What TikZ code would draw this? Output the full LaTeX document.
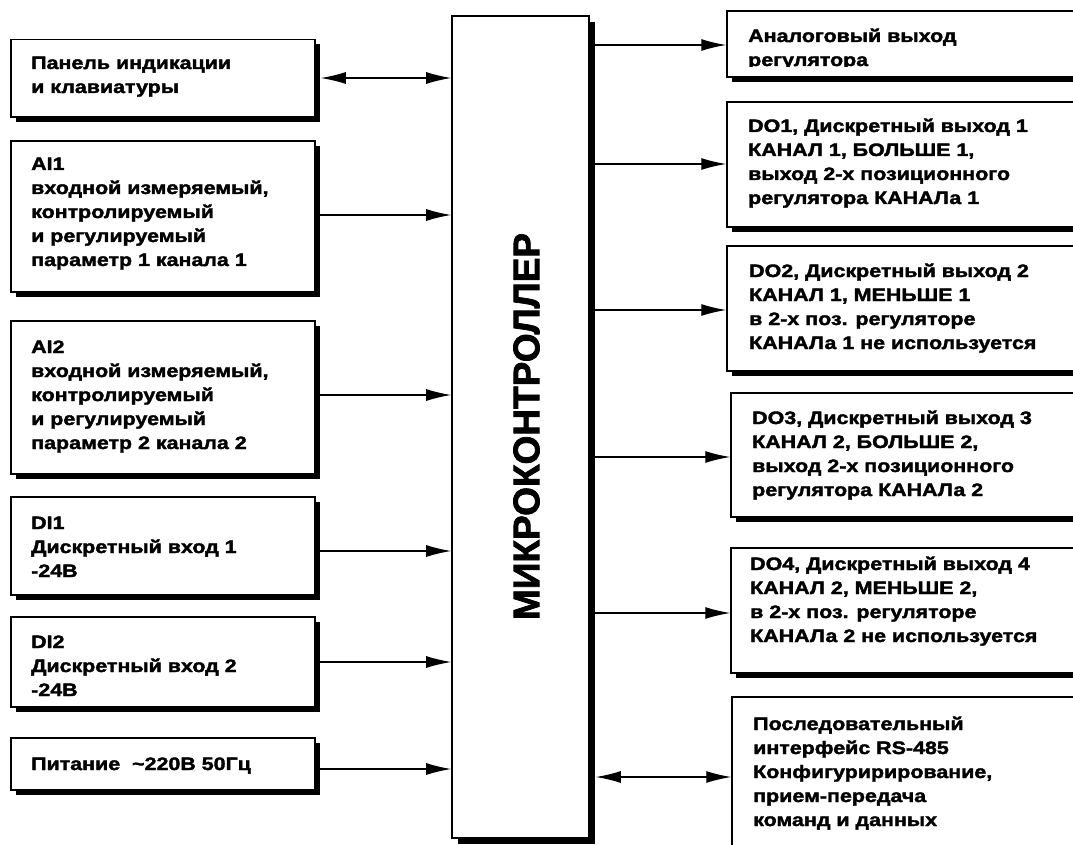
\documentclass[tikz,border=0pt]{standalone}
\usepackage{fontspec}
\setmainfont{Liberation Sans}[FakeStretch=1.19,FakeBold=2]
\newfontfamily\mcfont{Liberation Sans Bold}[FakeBold=2]
\usetikzlibrary{arrows.meta,fit,shadows}
\newcommand\lines[1]{\begin{tabular}[t]{@{}l@{}}#1\end{tabular}}
\begin{document}
\begin{tikzpicture}[x=1pt,y=-1pt,
  box/.style={draw=black, line width=1.5pt, fill=white, inner sep=0pt,
    drop shadow={shadow xshift=5pt, shadow yshift=-5pt, fill=black, opacity=1}},
  bigbox/.style={draw=black, line width=1.6pt, fill=white, inner sep=0pt,
    drop shadow={shadow xshift=6pt, shadow yshift=-6pt, fill=black, opacity=1}},
  lbl/.style={inner sep=0pt, anchor=base west, font=\bfseries\fontsize{18}{24}\selectfont},
  arr/.style={line width=1.3pt, -{Latex[length=25pt,width=12pt]}},
  darr/.style={line width=1.3pt, {Latex[length=25pt,width=12pt]}-{Latex[length=25pt,width=12pt]}}]
\useasboundingbox (0,0) rectangle (1073,845);
\clip (0,0) rectangle (1073,845);
% microcontroller
\node[bigbox, fit={(452,16) (589,838)}] (mc) {};
\node[inner sep=0pt, rotate=90, font=\mcfont\fontsize{37}{37}\selectfont] (mct) at (526.5,426.5) {МИКРОКОНТРОЛЛЕР};
% left boxes
\node[box, fit={(11,39.5) (315,117)}] (panel) {};
\node[box, fit={(11,141) (315,292)}] (ai1) {};
\node[box, fit={(11,321) (315,474)}] (ai2) {};
\node[box, fit={(11,497) (315,595)}] (di1) {};
\node[box, fit={(11,617) (315,707)}] (di2) {};
\node[box, fit={(11,738) (315,790)}] (pw) {};
\node[lbl] (tpanel) at (31,69) {\lines{Панель индикации\\и клавиатуры}};
\node[lbl] (tai1) at (31,170) {\lines{AI1\\входной измеряемый,\\контролируемый\\и регулируемый\\параметр 1 канала 1}};
\node[lbl] (tai2) at (31,353) {\lines{AI2\\входной измеряемый,\\контролируемый\\и регулируемый\\параметр 2 канала 2}};
\node[lbl] (tdi1) at (31,529) {\lines{DI1\\Дискретный вход 1\\-24В}};
\node[lbl] (tdi2) at (31,648) {\lines{DI2\\Дискретный вход 2\\-24В}};
\node[lbl] (tpw) at (31,770) {Питание\ \ \textasciitilde220В 50Гц};
% right boxes
\node[box, fit={(727,11) (1100,77)}] (an) {};
\node[box, fit={(727,102) (1100,227)}] (do1) {};
\node[box, fit={(727,246) (1100,371)}] (do2) {};
\node[box, fit={(731,393) (1100,517)}] (do3) {};
\node[box, fit={(731,548) (1100,673)}] (do4) {};
\node[box, fit={(732,697) (1100,900)}] (rs) {};
\begin{scope}
\clip (700,0) rectangle (1073,67);
\node[lbl] (tan) at (748,42) {\lines{Аналоговый выход\\регулятора}};
\end{scope}
\node[lbl] (tdo1) at (748,132) {\lines{DO1, Дискретный выход 1\\КАНАЛ 1, БОЛЬШЕ 1,\\выход 2-х позиционного\\регулятора КАНАЛа 1}};
\node[lbl] (tdo2) at (749,277) {\lines{DO2, Дискретный выход 2\\КАНАЛ 1, МЕНЬШЕ 1\\в 2-х поз. регуляторе\\КАНАЛа 1 не используется}};
\node[lbl] (tdo3) at (752,424) {\lines{DO3, Дискретный выход 3\\КАНАЛ 2, БОЛЬШЕ 2,\\выход 2-х позиционного\\регулятора КАНАЛа 2}};
\node[lbl] (tdo4) at (750,570) {\lines{DO4, Дискретный выход 4\\КАНАЛ 2, МЕНЬШЕ 2,\\в 2-х поз. регуляторе\\КАНАЛа 2 не используется}};
\node[lbl] (trs) at (753,730) {\lines{Последовательный\\интерфейс RS-485\\Конфигуририрование,\\прием-передача\\команд и данных}};
% connectors left
\draw[darr, shorten <=5pt] (panel.east |- 0,78) -- (mc.west |- 0,78);
\draw[arr] (ai1.east |- 0,215) -- (mc.west |- 0,215);
\draw[arr] (ai2.east |- 0,395) -- (mc.west |- 0,395);
\draw[arr] (di1.east |- 0,551) -- (mc.west |- 0,551);
\draw[arr] (di2.east |- 0,662) -- (mc.west |- 0,662);
\draw[arr] (pw.east |- 0,769) -- (mc.west |- 0,769);
% connectors right
\draw[arr] (mc.east |- 0,45) -- (an.west |- 0,45);
\draw[arr] (mc.east |- 0,164) -- (do1.west |- 0,164);
\draw[arr] (mc.east |- 0,310) -- (do2.west |- 0,310);
\draw[arr] (mc.east |- 0,457) -- (do3.west |- 0,457);
\draw[arr] (mc.east |- 0,613) -- (do4.west |- 0,613);
\draw[darr, shorten <=6pt] (mc.east |- 0,777) -- (rs.west |- 0,777);
\end{tikzpicture}
\end{document}
